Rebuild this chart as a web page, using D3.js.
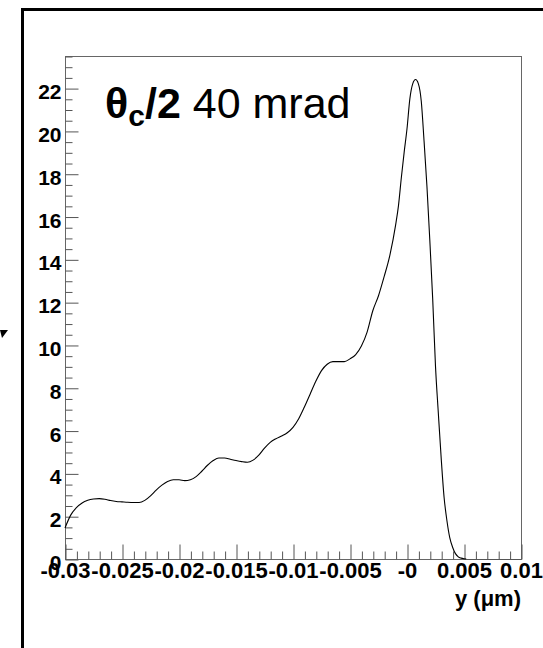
<!DOCTYPE html>
<html><head><meta charset="utf-8">
<script src="https://cdn.jsdelivr.net/npm/d3@7"></script>
<style>body{margin:0;background:#fff}svg{display:block}</style>
</head><body>
<svg id="c" width="543" height="648"></svg>
<script>
// ---- data ----
const xs = [-0.0300,-0.0295,-0.0290,-0.0285,-0.0280,-0.0275,-0.0270,-0.0265,-0.0260,-0.0255,
  -0.0250,-0.0245,-0.0240,-0.0235,-0.0230,-0.0225,-0.0220,-0.0215,-0.0210,-0.0205,
  -0.0200,-0.0195,-0.0190,-0.0185,-0.0180,-0.0175,-0.0170,-0.0165,-0.0160,-0.0155,
  -0.0150,-0.0145,-0.0140,-0.0135,-0.0130,-0.0125,-0.0120,-0.0115,-0.0110,-0.0105,
  -0.0100,-0.0095,-0.0090,-0.0085,-0.0080,-0.0075,-0.0070,-0.0065,-0.0060,-0.0055,
  -0.0050,-0.0045,-0.0040,-0.0035,-0.0030,-0.0025,-0.0020,-0.0015,-0.0010,-0.00075,
  -0.0005,-0.00025,0.0000,0.00025,0.0005,0.00075,0.0010,0.00125,0.0015,0.00175,
  0.0020,0.00225,0.0025,0.00275,0.0030,0.00325,0.0035,0.00375,0.0040,0.00425,
  0.0045,0.00475,0.0050,0.0052];
const ys = [1.45,2.05,2.40,2.62,2.74,2.80,2.82,2.79,2.73,2.69,
  2.67,2.65,2.64,2.64,2.74,2.95,3.22,3.45,3.62,3.70,
  3.70,3.66,3.70,3.85,4.10,4.38,4.60,4.72,4.72,4.66,
  4.60,4.55,4.52,4.62,4.85,5.18,5.45,5.62,5.75,5.90,
  6.15,6.55,7.10,7.70,8.30,8.80,9.10,9.22,9.22,9.22,
  9.35,9.55,9.95,10.60,11.60,12.30,13.20,14.20,15.60,16.50,
  17.80,19.00,20.10,21.50,22.20,22.40,22.20,21.40,19.50,17.40,
  14.90,12.20,9.00,6.80,4.70,2.90,1.80,1.00,0.55,0.25,
  0.10,0.04,0.01,0.00];
const xTickVals = [-0.03,-0.025,-0.02,-0.015,-0.01,-0.005,0,0.005,0.01];
const xTickLabels = ["-0.03","-0.025","-0.02","-0.015","-0.01","-0.005","-0","0.005","0.01"];
const yTickVals = [0,2,4,6,8,10,12,14,16,18,20,22];
const xDomain = [-0.03, 0.01];
const yDomain = [0, 23.5];

// ---- layout ----
const svg = d3.select("#c");
const L = 65, R = 521, T = 56, B = 559;
const x = d3.scaleLinear().domain(xDomain).range([L, R]);
const y = d3.scaleLinear().domain(yDomain).range([B, T]);
const font = "'Liberation Sans', Arial, Helvetica, sans-serif";

// outer pad frame (partial)
svg.append("path").attr("d", "M22.5,648 L22.5,9.5 L543,9.5")
  .attr("fill","none").attr("stroke","#000").attr("stroke-width",3);
// small arrow at left edge
svg.append("path").attr("d","M0,330 L8,330 L2,338 Z").attr("fill","#000");

// plot frame
svg.append("rect").attr("x",L+0.5).attr("y",T+0.5).attr("width",R-L).attr("height",B-T)
  .attr("fill","none").attr("stroke","#666").attr("stroke-width",1);

// minor ticks x
const xMinor = d3.range(-0.03, 0.0100001, 0.001).filter(v => !xTickVals.some(t => Math.abs(t - v) < 1e-9));
const gx = svg.append("g").attr("transform",`translate(0,${B+0.5})`);
gx.call(d3.axisBottom(x).tickValues(xMinor).tickSize(-8).tickFormat(""))
  .call(g=>g.select(".domain").remove());
const gx2 = svg.append("g").attr("transform",`translate(0,${B+0.5})`);
gx2.call(d3.axisBottom(x).tickValues(xTickVals).tickSize(-15).tickPadding(2)
   .tickFormat((d,i)=>xTickLabels[i]))
  .call(g=>g.select(".domain").remove());
[gx,gx2].forEach(g=>g.selectAll("line").attr("stroke","#555").attr("transform","translate(0.5,0)"));
gx2.selectAll("text").attr("font-family",font).attr("font-weight","bold")
  .attr("font-size",22).attr("fill","#000").attr("dy","0.76em");

// minor ticks y
const yMinor = d3.range(0, 23.5001, 0.5).filter(v => v % 2 !== 0);
const gy = svg.append("g").attr("transform",`translate(${L+0.5},0)`);
gy.call(d3.axisLeft(y).tickValues(yMinor).tickSize(-7).tickFormat(""))
  .call(g=>g.select(".domain").remove());
const gy2 = svg.append("g").attr("transform",`translate(${L+0.5},0)`);
gy2.call(d3.axisLeft(y).tickValues(yTickVals).tickSize(-13).tickPadding(4).tickFormat(d3.format("d")))
  .call(g=>g.select(".domain").remove());
[gy,gy2].forEach(g=>g.selectAll("line").attr("stroke","#555").attr("transform","translate(0,0.5)"));
gy2.selectAll("text").attr("font-family",font).attr("font-weight","bold")
  .attr("font-size",21).attr("fill","#000").attr("dy","0.5em");

// curve
const pts = xs.map((v,i)=>[v, ys[i]]);
const line = d3.line().x(d=>x(d[0])).y(d=>y(d[1])).curve(d3.curveMonotoneX);
svg.append("path").datum(pts).attr("d", line)
  .attr("fill","none").attr("stroke","#000").attr("stroke-width",1.1);
svg.append("line").attr("x1",x(0.0052)).attr("x2",R).attr("y1",B+0.5).attr("y2",B+0.5)
  .attr("stroke","#555");

// title
const t = svg.append("text").attr("x",105).attr("y",118).attr("font-family",font).attr("font-size",43).attr("fill","#000");
t.append("tspan").attr("font-weight","bold").text("θ");
t.append("tspan").attr("font-weight","bold").attr("font-size",30).attr("dy",8).text("c");
t.append("tspan").attr("font-weight","bold").attr("dy",-8).text("/2");
t.append("tspan").text(" 40 mrad");

// axis title
svg.append("text").attr("x",R).attr("y",606).attr("text-anchor","end")
  .attr("font-family",font).attr("font-weight","bold").attr("font-size",22).attr("fill","#000")
  .text("y (μm)");
</script>
</body></html>
